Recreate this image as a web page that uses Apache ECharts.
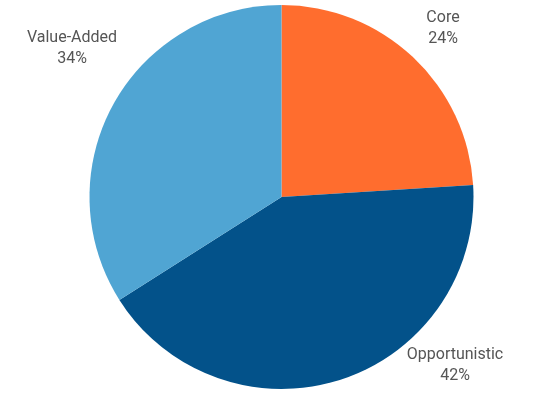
<!DOCTYPE html>
<html><head><meta charset="utf-8">
<script src="https://cdn.jsdelivr.net/npm/echarts@6/dist/echarts.min.js"></script>
<style>html,body{margin:0;padding:0;background:#fff}#c{width:542px;height:393px}</style>
</head><body><div id="c"></div>
<script>
const categories = ['Core', 'Opportunistic', 'Value-Added'];
const values = [24, 42, 34];
const colors = ['#FF6D2E', '#03528A', '#50A5D3'];

const labelPos = { 'Core': [443, 28], 'Opportunistic': [455, 365], 'Value-Added': [72, 48] };

const chart = echarts.init(document.getElementById('c'));
chart.setOption({
  animation: false,
  series: [{
    type: 'pie',
    center: [281.5, 197],
    radius: 192,
    startAngle: 90,
    clockwise: true,
    data: categories.map((c, i) => ({ name: c, value: values[i], itemStyle: { color: colors[i] } })),
    label: {
      show: true,
      position: 'outside',
      formatter: p => p.name + '\n' + p.value + '%',
      fontFamily: 'Roboto',
      fontSize: 16,
      lineHeight: 21,
      color: '#555555',
      align: 'center',
      overflow: 'none'
    },
    labelLine: { show: false },
    labelLayout: function (params) {
      const name = categories[params.dataIndex];
      const p = labelPos[name];
      return { x: p[0], y: p[1], align: 'center', verticalAlign: 'middle' };
    },
    emphasis: { disabled: true }
  }]
});
</script></body></html>
